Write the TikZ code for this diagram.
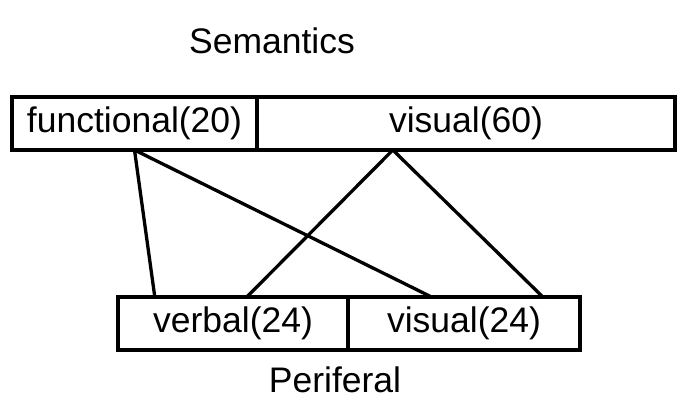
\documentclass[tikz,border=0pt]{standalone}
\usepackage{fontspec}
\setmainfont{Liberation Sans}
\usetikzlibrary{positioning,calc}

\begin{document}
\begin{tikzpicture}[x=1pt,y=-1pt,line width=3.3pt,
        box/.style={draw,rectangle,inner sep=0pt,outer sep=0pt,minimum height=53pt},
        every node/.style={font=\fontsize{35.5}{42}\selectfont}]

  \useasboundingbox (0,0) rectangle (691,417);

  \node[box,minimum width=245pt] (func) at (134.5,123.5) {functional(20)};
  \node[box,minimum width=418pt] (vis60) [right=0pt of func] {visual(60)};
  \node[box,minimum width=230pt] (verbal) at (233,323.5) {verbal(24)};
  \node[box,minimum width=232pt] (vis24) [right=0pt of verbal] {visual(24)};
  \node (sem) at (272,41) {Semantics};
  \node (peri) at (335,380) {Periferal};

  \draw (func.south) -- ($(verbal.north west)!0.16!(verbal.north east)$)
        (func.south) -- ($(vis24.north west)!0.36!(vis24.north east)$)
        ($(vis60.south west)!0.325!(vis60.south east)$) -- ($(verbal.north west)!0.56!(verbal.north east)$)
        ($(vis60.south west)!0.325!(vis60.south east)$) -- ($(vis24.north west)!0.84!(vis24.north east)$);

\end{tikzpicture}
\end{document}
